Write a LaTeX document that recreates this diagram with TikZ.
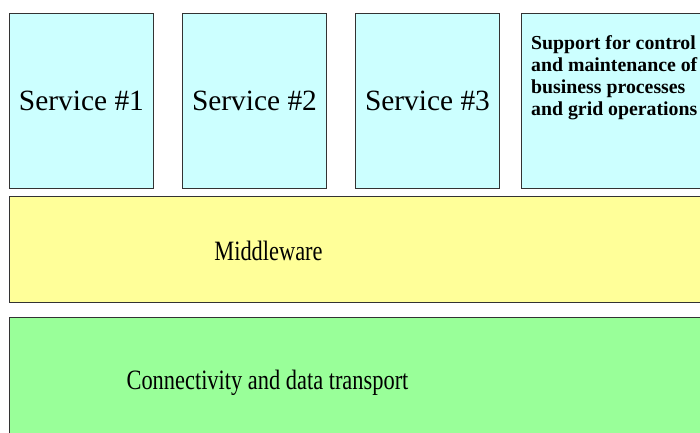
\documentclass[tikz,border=0pt]{standalone}
\usepackage{fontspec}
\setmainfont{Liberation Serif}
\definecolor{cyanbox}{HTML}{CCFFFF}
\definecolor{yellowbox}{HTML}{FFFF99}
\definecolor{greenbox}{HTML}{99FF99}
\definecolor{edge}{HTML}{333333}
\tikzset{
  layer/.style={draw=edge, line width=0.9pt, rectangle, inner sep=0pt, anchor=north west},
  svc/.style={font=\fontsize{29.4}{33}\selectfont},
  big/.style={font=\fontsize{28}{32}\selectfont, anchor=base, inner sep=0pt},
}
\begin{document}
\begin{tikzpicture}[x=1pt,y=-1pt]
\useasboundingbox (0,0) rectangle (700,432);
\clip (0,0) rectangle (700,432);
\node[layer, fill=cyanbox, minimum width=144pt, minimum height=175pt] (s1) at (9,13) {};
\node[layer, fill=cyanbox, minimum width=144pt, minimum height=175pt] (s2) at (182,13) {};
\node[layer, fill=cyanbox, minimum width=144pt, minimum height=175pt] (s3) at (355,13) {};
\node[layer, fill=cyanbox, minimum width=200pt, minimum height=175pt] (s4) at (521,13) {};
\node[layer, fill=yellowbox, minimum width=720pt, minimum height=106pt] (mw) at (9,196) {};
\node[layer, fill=greenbox, minimum width=720pt, minimum height=140pt] (ct) at (9,317) {};
\node[svc] (t1) at (s1.center) {Service \#1};
\node[svc] (t2) at (s2.center) {Service \#2};
\node[svc] (t3) at (s3.center) {Service \#3};
\node[anchor=base west, inner sep=0pt, align=left, font=\fontsize{19.8}{21.7}\selectfont\bfseries] (t4) at (531,115)
  {Support for control\\and maintenance of\\business processes\\and grid operations};
\node[big] (tmw) at (268.5,260) {\scalebox{0.8}[1]{Middleware}};
\node[big] (tct) at (267.5,389) {\scalebox{0.8}[1]{Connectivity and data transport}};
\end{tikzpicture}
\end{document}
